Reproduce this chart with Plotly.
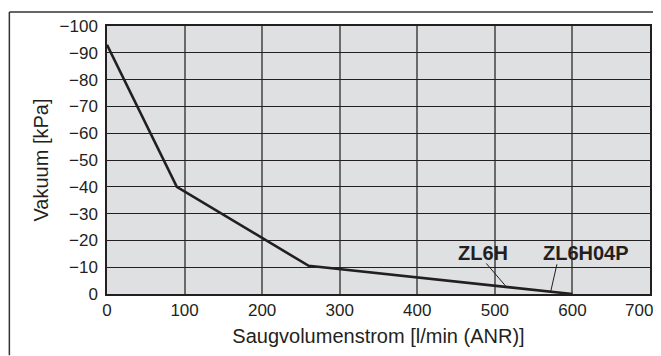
import plotly.graph_objects as go

# Kennlinie ZL6H / ZL6H04P (Saugvolumenstrom vs. Vakuum)
flow = [0, 90, 260, 600]
vacuum = [-93, -40, -10.5, 0]

x_ticks = [0, 100, 200, 300, 400, 500, 600, 700]
y_ticks = [0, -10, -20, -30, -40, -50, -60, -70, -80, -90, -100]

labels = ["ZL6H", "ZL6H04P"]
label_x = [485, 617]
label_y = [-15.2, -15.2]
leader_x0 = [489, 580]
leader_y0 = [-11.4, -11.1]
leader_x1 = [515, 572]
leader_y1 = [-2.6, -0.9]

fig = go.Figure()

fig.add_trace(go.Scatter(
    x=flow,
    y=vacuum,
    mode="lines",
    line=dict(color="#231f20", width=2.6),
    showlegend=False,
    hoverinfo="skip",
))

# leader lines from labels to the curve
for i in range(len(labels)):
    fig.add_trace(go.Scatter(
        x=[leader_x0[i], leader_x1[i]],
        y=[leader_y0[i], leader_y1[i]],
        mode="lines",
        line=dict(color="#231f20", width=1),
        showlegend=False,
        hoverinfo="skip",
    ))
    fig.add_annotation(
        x=label_x[i], y=label_y[i], text="<b>%s</b>" % labels[i],
        showarrow=False, xanchor="center", yanchor="middle",
        font=dict(family="Liberation Sans, Arial", size=20, color="#231f20"),
    )

# last x tick label sits at the window edge, so it is drawn shifted left
fig.add_annotation(
    x=x_ticks[-1], y=0, xref="x", yref="paper", text=str(x_ticks[-1]),
    showarrow=False, xanchor="center", yanchor="top", xshift=-11, yshift=-5,
    font=dict(family="Liberation Sans, Arial", size=17, color="#231f20"),
)

# page body adds 8px, so the figure is 8px smaller than the window
fig.update_layout(
    width=653,
    height=348,
    margin=dict(l=99, r=9, t=15, b=62),
    plot_bgcolor="#dfe0e2",
    paper_bgcolor="white",
    font=dict(family="Liberation Sans, Arial", size=17, color="#231f20"),
    xaxis=dict(
        range=[0, 700],
        tickvals=x_ticks[:-1],
        showgrid=True,
        gridcolor="#6a6a6a",
        gridwidth=2,
        zeroline=False,
        showline=True,
        linecolor="#231f20",
        linewidth=1.5,
        mirror=True,
        ticks="",
        title=dict(text="Saugvolumenstrom [l/min (ANR)]", font=dict(size=20), standoff=10),
    ),
    yaxis=dict(
        range=[0, -100],
        tickvals=y_ticks,
        showgrid=True,
        gridcolor="#231f20",
        gridwidth=1,
        zeroline=False,
        showline=True,
        linecolor="#231f20",
        linewidth=1.5,
        mirror=True,
        ticks="",
        ticklabelstandoff=4,
        title=dict(text="Vakuum [kPa]", font=dict(size=20), standoff=6),
    ),
)

# outer frame of the catalogue figure (left and top edge visible)
left = (1 - 99) / 545
top = 1 + (15 - 0.8) / 271
fig.add_shape(
    type="line", xref="paper", yref="paper",
    x0=left, x1=left, y0=-62 / 271, y1=top,
    line=dict(color="#333333", width=1.5),
)
fig.add_shape(
    type="line", xref="paper", yref="paper",
    x0=left, x1=(653 - 99) / 545, y0=top, y1=top,
    line=dict(color="#333333", width=1.5),
)

fig.write_html("out.html")
